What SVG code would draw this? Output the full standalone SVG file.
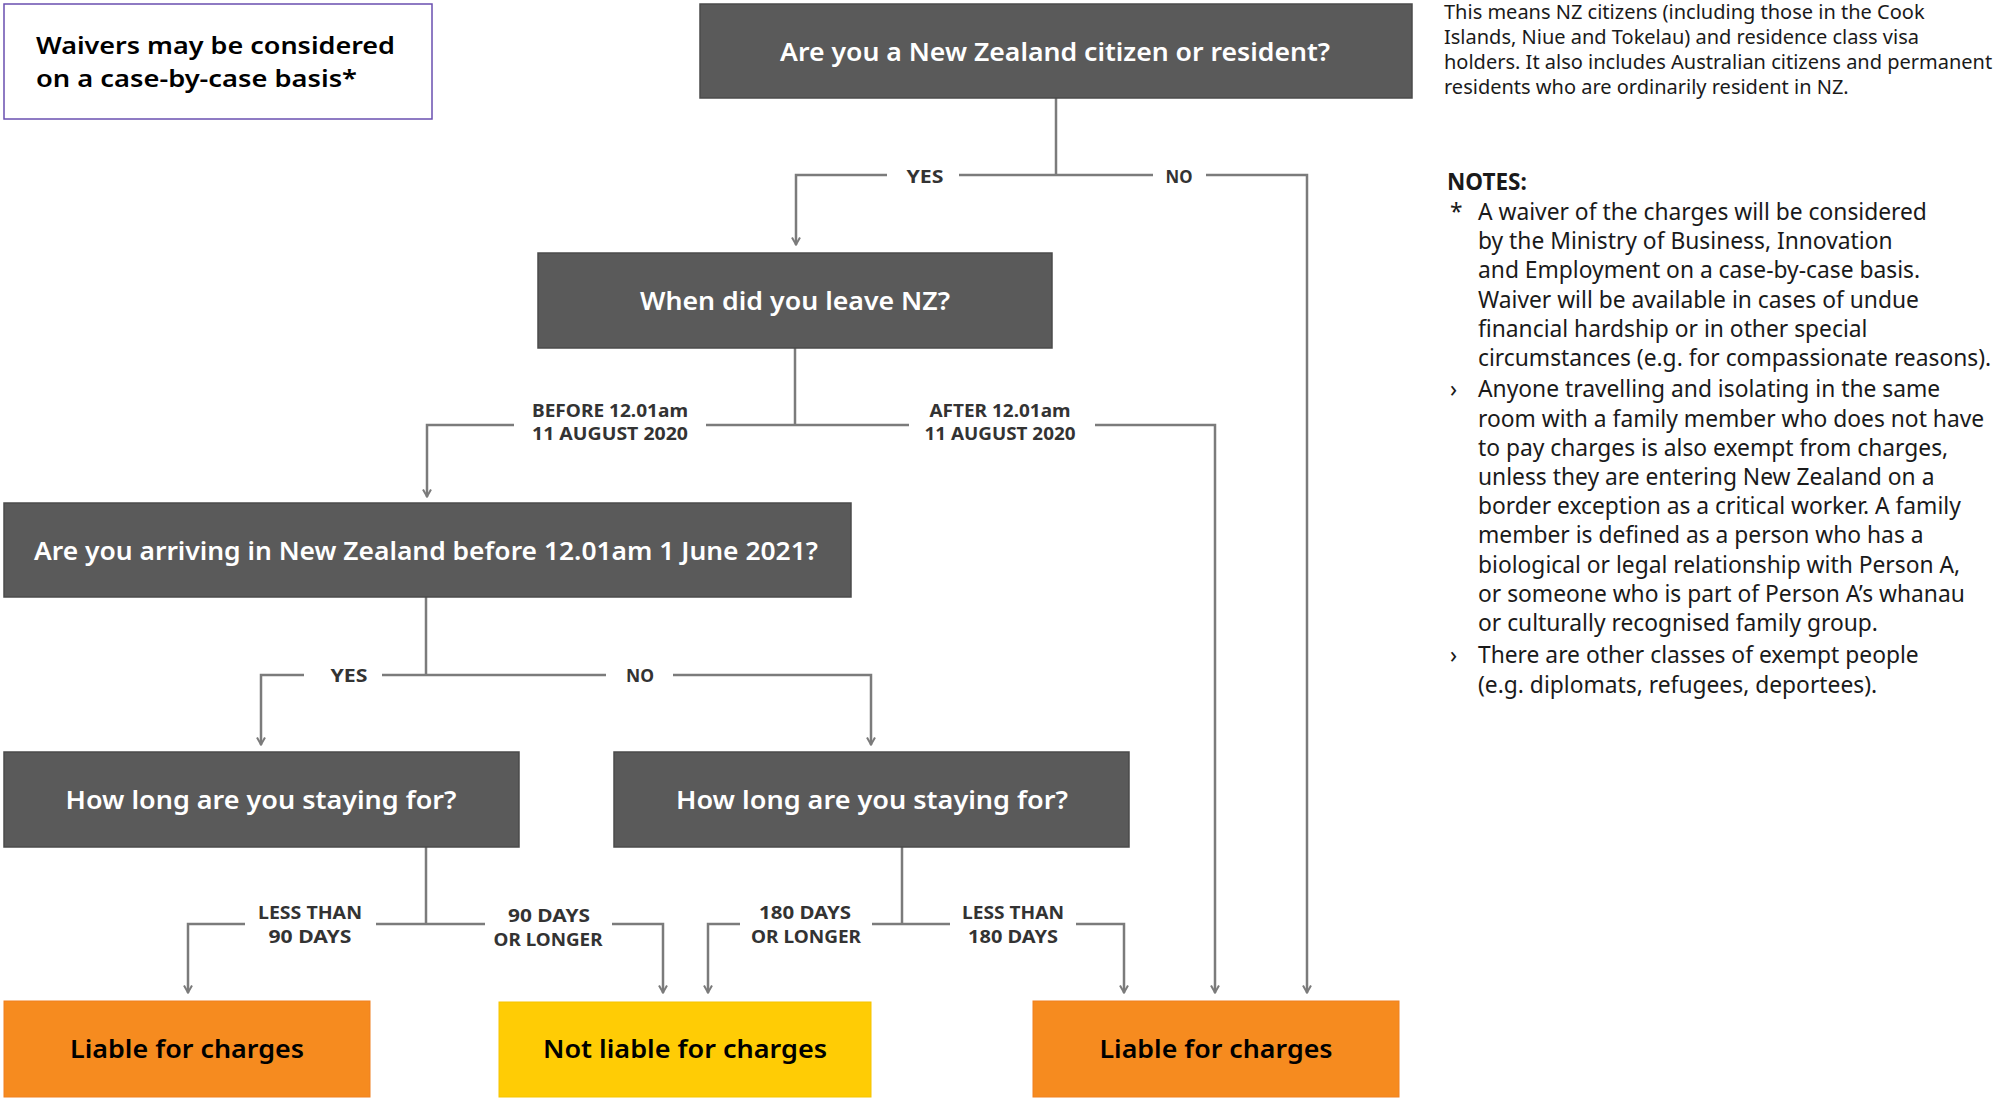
<svg xmlns="http://www.w3.org/2000/svg" width="2000" height="1100" viewBox="0 0 2000 1100">
<defs>
<style>
.q rect{fill:#5a5a5a;stroke:#4b4b4b;stroke-width:1.5}
.q text{fill:#ffffff;font-family:"Noto Sans","Open Sans",sans-serif;font-weight:600;font-size:25px;text-anchor:middle}
.rl rect{fill:#f68b1f;stroke:#f08020;stroke-width:1}
.nl rect{fill:#ffcc05;stroke:#f5c400;stroke-width:1}
.r text{fill:#000000;font-family:"Noto Sans","Open Sans",sans-serif;font-weight:600;font-size:26px;text-anchor:middle}
.c path{fill:none;stroke:#7b7b7b;stroke-width:2.5}
.lb{fill:#333333;font-family:"Noto Sans","Open Sans",sans-serif;font-weight:700;font-size:17px;text-anchor:middle}
.note{fill:#1a1a1a;font-family:"Noto Sans","Open Sans",sans-serif;font-size:22.8px}
.top{fill:#1a1a1a;font-family:"Noto Sans","Open Sans",sans-serif;font-size:20px}
</style>
<marker id="ah" viewBox="0 0 10 10" refX="9" refY="5" markerWidth="10" markerHeight="10" markerUnits="userSpaceOnUse" orient="auto">
<path d="M1.5,1 L8.5,5 L1.5,9" fill="none" stroke="#7b7b7b" stroke-width="2"/>
</marker>
</defs>
<rect width="2000" height="1100" fill="#ffffff"/>

<g id="waivers">
<rect x="4" y="4" width="428" height="115" fill="#ffffff" stroke="#6a4fb0" stroke-width="1.5"/>
<text x="36" y="54" font-family="Noto Sans, Open Sans, sans-serif" font-weight="600" font-size="24" fill="#000" textLength="359" lengthAdjust="spacingAndGlyphs">Waivers may be considered</text>
<text x="36" y="87" font-family="Noto Sans, Open Sans, sans-serif" font-weight="600" font-size="24" fill="#000" textLength="321" lengthAdjust="spacingAndGlyphs">on a case-by-case basis*</text>
</g>

<g id="connectors" class="c">
<path d="M1056,98 V175"/>
<path d="M1056,175 H959 M887,175 H796 V245" marker-end="url(#ah)"/>
<path d="M1056,175 H1153 M1206,175 H1307 V993" marker-end="url(#ah)"/>
<path d="M795,348 V425"/>
<path d="M795,425 H706 M514,425 H427 V497" marker-end="url(#ah)"/>
<path d="M795,425 H909 M1095,425 H1215 V993" marker-end="url(#ah)"/>
<path d="M426,597 V675"/>
<path d="M426,675 H382 M304,675 H261 V745" marker-end="url(#ah)"/>
<path d="M426,675 H606 M673,675 H871 V745" marker-end="url(#ah)"/>
<path d="M426,847 V924"/>
<path d="M426,924 H376 M245,924 H188 V993" marker-end="url(#ah)"/>
<path d="M426,924 H485 M612,924 H663 V993" marker-end="url(#ah)"/>
<path d="M902,847 V924"/>
<path d="M902,924 H872 M740,924 H708 V993" marker-end="url(#ah)"/>
<path d="M902,924 H950 M1076,924 H1124 V993" marker-end="url(#ah)"/>
</g>

<g id="labels">
<text class="lb" x="925" y="183" textLength="37" lengthAdjust="spacingAndGlyphs">YES</text>
<text class="lb" x="1179" y="183" textLength="27" lengthAdjust="spacingAndGlyphs">NO</text>
<text class="lb" x="610" y="417" textLength="156" lengthAdjust="spacingAndGlyphs">BEFORE 12.01am</text>
<text class="lb" x="610" y="440" textLength="156" lengthAdjust="spacingAndGlyphs">11 AUGUST 2020</text>
<text class="lb" x="1000" y="417" textLength="141" lengthAdjust="spacingAndGlyphs">AFTER 12.01am</text>
<text class="lb" x="1000" y="440" textLength="151" lengthAdjust="spacingAndGlyphs">11 AUGUST 2020</text>
<text class="lb" x="349" y="682" textLength="37" lengthAdjust="spacingAndGlyphs">YES</text>
<text class="lb" x="640" y="682" textLength="28" lengthAdjust="spacingAndGlyphs">NO</text>
<text class="lb" x="310" y="919" textLength="104" lengthAdjust="spacingAndGlyphs">LESS THAN</text>
<text class="lb" x="310" y="943" textLength="83" lengthAdjust="spacingAndGlyphs">90 DAYS</text>
<text class="lb" x="549" y="922" textLength="82" lengthAdjust="spacingAndGlyphs">90 DAYS</text>
<text class="lb" x="548" y="946" textLength="109" lengthAdjust="spacingAndGlyphs">OR LONGER</text>
<text class="lb" x="805" y="919" textLength="92" lengthAdjust="spacingAndGlyphs">180 DAYS</text>
<text class="lb" x="806" y="943" textLength="110" lengthAdjust="spacingAndGlyphs">OR LONGER</text>
<text class="lb" x="1013" y="919" textLength="102" lengthAdjust="spacingAndGlyphs">LESS THAN</text>
<text class="lb" x="1013" y="943" textLength="90" lengthAdjust="spacingAndGlyphs">180 DAYS</text>
</g>

<g id="q-citizen" class="q">
<rect x="700" y="4" width="712" height="94"/>
<text x="1055" y="61" textLength="550" lengthAdjust="spacingAndGlyphs">Are you a New Zealand citizen or resident?</text>
</g>
<g id="q-leave" class="q">
<rect x="538" y="253" width="514" height="95"/>
<text x="795" y="310" textLength="310" lengthAdjust="spacingAndGlyphs">When did you leave NZ?</text>
</g>
<g id="q-arriving" class="q">
<rect x="4" y="503" width="847" height="94"/>
<text x="426" y="560" textLength="784" lengthAdjust="spacingAndGlyphs">Are you arriving in New Zealand before 12.01am 1 June 2021?</text>
</g>
<g id="q-stay-left" class="q">
<rect x="4" y="752" width="515" height="95"/>
<text x="261" y="809" textLength="391" lengthAdjust="spacingAndGlyphs">How long are you staying for?</text>
</g>
<g id="q-stay-right" class="q">
<rect x="614" y="752" width="515" height="95"/>
<text x="872" y="809" textLength="392" lengthAdjust="spacingAndGlyphs">How long are you staying for?</text>
</g>
<g id="r-liable-left" class="r rl">
<rect x="4" y="1001" width="366" height="96"/>
<text x="187" y="1058" textLength="234" lengthAdjust="spacingAndGlyphs">Liable for charges</text>
</g>
<g id="r-not-liable" class="r nl">
<rect x="499" y="1002" width="372" height="95"/>
<text x="685" y="1058" textLength="284" lengthAdjust="spacingAndGlyphs">Not liable for charges</text>
</g>
<g id="r-liable-right" class="r rl">
<rect x="1033" y="1001" width="366" height="96"/>
<text x="1216" y="1058" textLength="233" lengthAdjust="spacingAndGlyphs">Liable for charges</text>
</g>

<g id="citizen-note">
<text class="top" x="1444" y="19">This means NZ citizens (including those in the Cook</text>
<text class="top" x="1444" y="44">Islands, Niue and Tokelau) and residence class visa</text>
<text class="top" x="1444" y="69">holders. It also includes Australian citizens and permanent</text>
<text class="top" x="1444" y="94">residents who are ordinarily resident in NZ.</text>
</g>

<g id="notes">
<text x="1447" y="190" font-family="Noto Sans, Open Sans, sans-serif" font-weight="700" font-size="22.5" fill="#1a1a1a">NOTES:</text>
<text class="note" x="1450" y="220">*</text>
<text class="note" x="1478" y="220">A waiver of the charges will be considered</text>
<text class="note" x="1478" y="249">by the Ministry of Business, Innovation</text>
<text class="note" x="1478" y="278">and Employment on a case-by-case basis.</text>
<text class="note" x="1478" y="308">Waiver will be available in cases of undue</text>
<text class="note" x="1478" y="337">financial hardship or in other special</text>
<text class="note" x="1478" y="366">circumstances (e.g. for compassionate reasons).</text>
<text class="note" x="1450" y="397">›</text>
<text class="note" x="1478" y="397">Anyone travelling and isolating in the same</text>
<text class="note" x="1478" y="427">room with a family member who does not have</text>
<text class="note" x="1478" y="456">to pay charges is also exempt from charges,</text>
<text class="note" x="1478" y="485">unless they are entering New Zealand on a</text>
<text class="note" x="1478" y="514">border exception as a critical worker. A family</text>
<text class="note" x="1478" y="543">member is defined as a person who has a</text>
<text class="note" x="1478" y="573">biological or legal relationship with Person A,</text>
<text class="note" x="1478" y="602">or someone who is part of Person A’s whanau</text>
<text class="note" x="1478" y="631">or culturally recognised family group.</text>
<text class="note" x="1450" y="663">›</text>
<text class="note" x="1478" y="663">There are other classes of exempt people</text>
<text class="note" x="1478" y="693">(e.g. diplomats, refugees, deportees).</text>
</g>
</svg>
